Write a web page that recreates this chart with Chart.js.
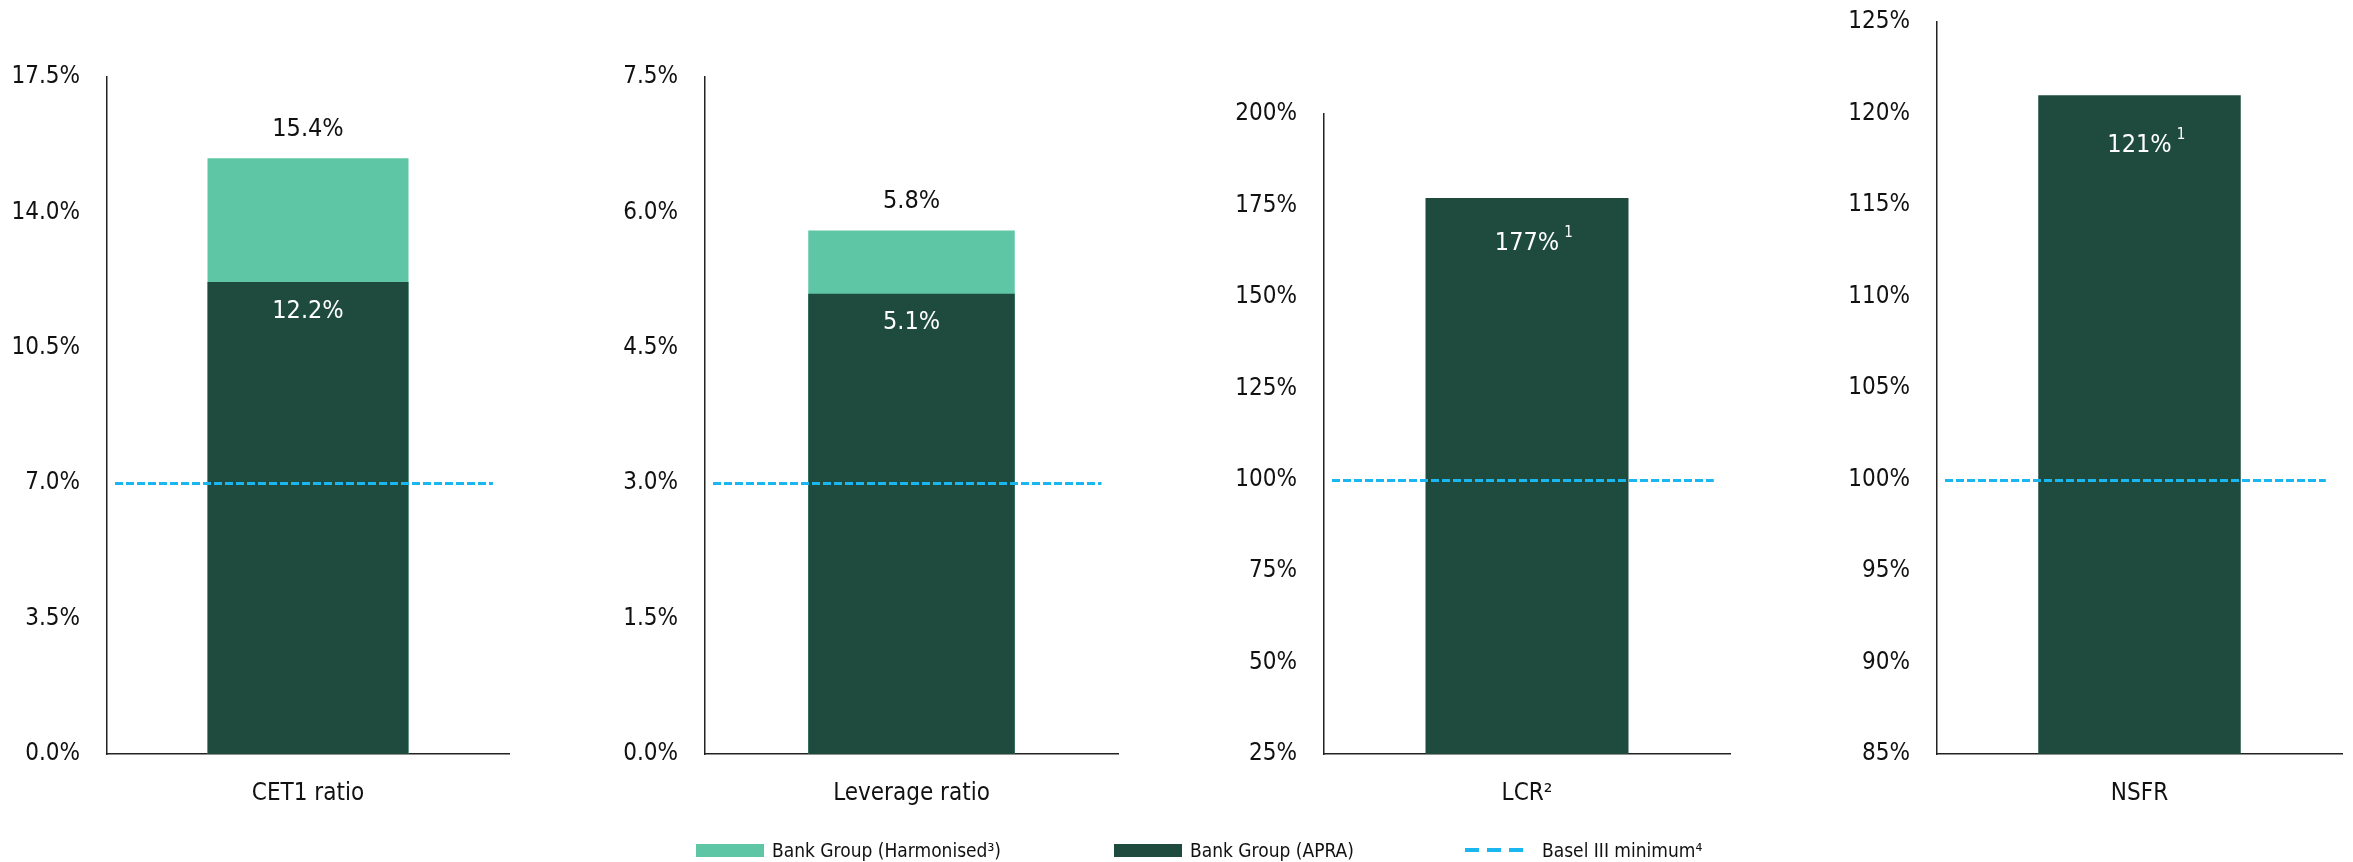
<!DOCTYPE html>
<html>
<head>
<meta charset="utf-8">
<script src="https://cdn.jsdelivr.net/npm/chart.js@4.4.1/dist/chart.umd.min.js"></script>
<style>
  html, body { margin: 0; padding: 0; background: #fff; }
  #wrap { position: relative; width: 2353px; height: 862px; overflow: hidden; }
  #wrap canvas { position: absolute; top: 0; }
  .leg { position: absolute; top: 837px; height: 26px; display: flex; align-items: center;
         font-family: "Liberation Sans Narrow", "DejaVu Sans Condensed", "Liberation Sans", sans-serif;
         font-size: 19px; color: #111; white-space: nowrap; }
  .sw { display: inline-block; width: 68px; height: 13px; margin-right: 8px; }
  .dash { display: inline-block; width: 58px; height: 4px; margin-right: 19px;
          background: repeating-linear-gradient(to right, #19b6f0 0 14px, transparent 14px 22px); }
</style>
</head>
<body>
<div id="wrap">
  <canvas id="c0" width="520" height="862" style="left:0px"></canvas>
  <canvas id="c1" width="530" height="862" style="left:600px"></canvas>
  <canvas id="c2" width="540" height="862" style="left:1200px"></canvas>
  <canvas id="c3" width="553" height="862" style="left:1800px"></canvas>
  <div class="leg" style="left:696px"><span class="sw" style="background:#5ec6a5"></span>Bank Group (Harmonised³)</div>
  <div class="leg" style="left:1114px"><span class="sw" style="background:#1f4b3f"></span>Bank Group (APRA)</div>
  <div class="leg" style="left:1465px"><span class="dash"></span>Basel III minimum⁴</div>
</div>
<script>
// chart values
const categories = ['CET1 ratio', 'Leverage ratio', 'LCR²', 'NSFR'];
const apraValues = [12.2, 5.1, 177, 121];
const harmonisedValues = [15.4, 5.8, null, null];
const apraNotes = ['', '', '1', '1'];
const baselMinimum = [7, 3, 100, 100];
const axisMin = [0, 0, 25, 85];
const axisMax = [17.5, 7.5, 200, 125];
const axisStep = [3.5, 1.5, 25, 5];
const tickDecimals = [1, 1, 0, 0];

const FONT = '"Liberation Sans Narrow", "DejaVu Sans Condensed", "Liberation Sans", sans-serif';
const LIGHT = '#5ec6a5';
const DARK = '#1f4b3f';
const BLUE = '#19b6f0';

Chart.defaults.font.family = FONT;
Chart.defaults.color = '#111';

// layout of each small chart (y axis width, top of plot, label offset inside bar)
const panels = [
    { axisWidth: 107, top: 77, padRight: 11, inside: 29 },
    { axisWidth: 105, top: 77, padRight: 12, inside: 29 },
    { axisWidth: 124, top: 114, padRight: 10, inside: 45 },
    { axisWidth: 137, top: 22, padRight: 11, inside: 50 }
];
const plotBottom = 754;

// dashed Basel III minimum across each panel
const baselLine = {
    id: 'baselLine',
    afterDatasetsDraw(chart, args, opts) {
        const { ctx, chartArea } = chart;
        const y = Math.round(chart.scales.y.getPixelForValue(opts.value)) + 0.5;
        const w = chartArea.right - chartArea.left;
        ctx.save();
        ctx.strokeStyle = BLUE;
        ctx.lineWidth = 3;
        ctx.setLineDash([8, 3]);
        ctx.beginPath();
        ctx.moveTo(chartArea.left + 8, y);
        ctx.lineTo(chartArea.left + w * 0.96, y);
        ctx.stroke();
        ctx.restore();
    }
};

// value labels on the bars
const barLabels = {
    id: 'barLabels',
    afterDraw(chart, args, opts) {
        const { ctx } = chart;
        const i = opts.index;
        ctx.save();
        ctx.textAlign = 'center';
        ctx.textBaseline = 'middle';
        ctx.font = '25px ' + FONT;
        const harm = chart.getDatasetMeta(0).data[0];
        if (harmonisedValues[i] != null && harm) {
            ctx.fillStyle = '#111';
            ctx.fillText(harmonisedValues[i].toFixed(1) + '%', harm.x, harm.y - 29);
        }
        const apra = chart.getDatasetMeta(1).data[0];
        const txt = apraValues[i].toFixed(tickDecimals[i]) + '%';
        ctx.fillStyle = '#fff';
        ctx.fillText(txt, apra.x, apra.y + opts.inside);
        if (apraNotes[i]) {
            const tw = ctx.measureText(txt).width;
            ctx.font = '15px ' + FONT;
            ctx.textAlign = 'left';
            ctx.fillText(apraNotes[i], apra.x + tw / 2 + 5, apra.y + opts.inside - 10);
        }
        ctx.restore();
    }
};

function buildChart(i) {
    const p = panels[i];
    new Chart(document.getElementById('c' + i).getContext('2d'), {
        type: 'bar',
        data: {
            labels: [categories[i]],
            datasets: [
                {
                    label: 'Bank Group (Harmonised³)',
                    data: [harmonisedValues[i]],
                    backgroundColor: LIGHT,
                    grouped: false,
                    order: 1
                },
                {
                    label: 'Bank Group (APRA)',
                    data: [apraValues[i]],
                    backgroundColor: DARK,
                    grouped: false,
                    order: 0
                }
            ]
        },
        options: {
            responsive: false,
            animation: false,
            devicePixelRatio: 1,
            categoryPercentage: 0.5,
            barPercentage: 1,
            layout: { padding: { top: p.top, right: p.padRight, bottom: 0, left: 0 } },
            plugins: {
                legend: { display: false },
                tooltip: { enabled: false },
                baselLine: { value: baselMinimum[i] },
                barLabels: { index: i, inside: p.inside }
            },
            scales: {
                x: {
                    grid: { display: false, drawTicks: false },
                    border: { display: true, color: '#222', width: 1.5 },
                    ticks: { padding: 25, font: { size: 24 }, color: '#111' },
                    afterFit: s => { s.height = 862 - plotBottom; }
                },
                y: {
                    min: axisMin[i],
                    max: axisMax[i],
                    grid: { display: false, drawTicks: false },
                    border: { display: true, color: '#222', width: 1.5 },
                    ticks: {
                        stepSize: axisStep[i],
                        padding: 27,
                        font: { size: 24 },
                        color: '#111',
                        callback: v => v.toFixed(tickDecimals[i]) + '%'
                    },
                    afterFit: s => {
                        s.width = p.axisWidth;
                        s.paddingTop = 0;
                        s.paddingBottom = 0;
                    }
                }
            }
        },
        plugins: [baselLine, barLabels]
    });
}

categories.forEach((c, i) => buildChart(i));
</script>
</body>
</html>
